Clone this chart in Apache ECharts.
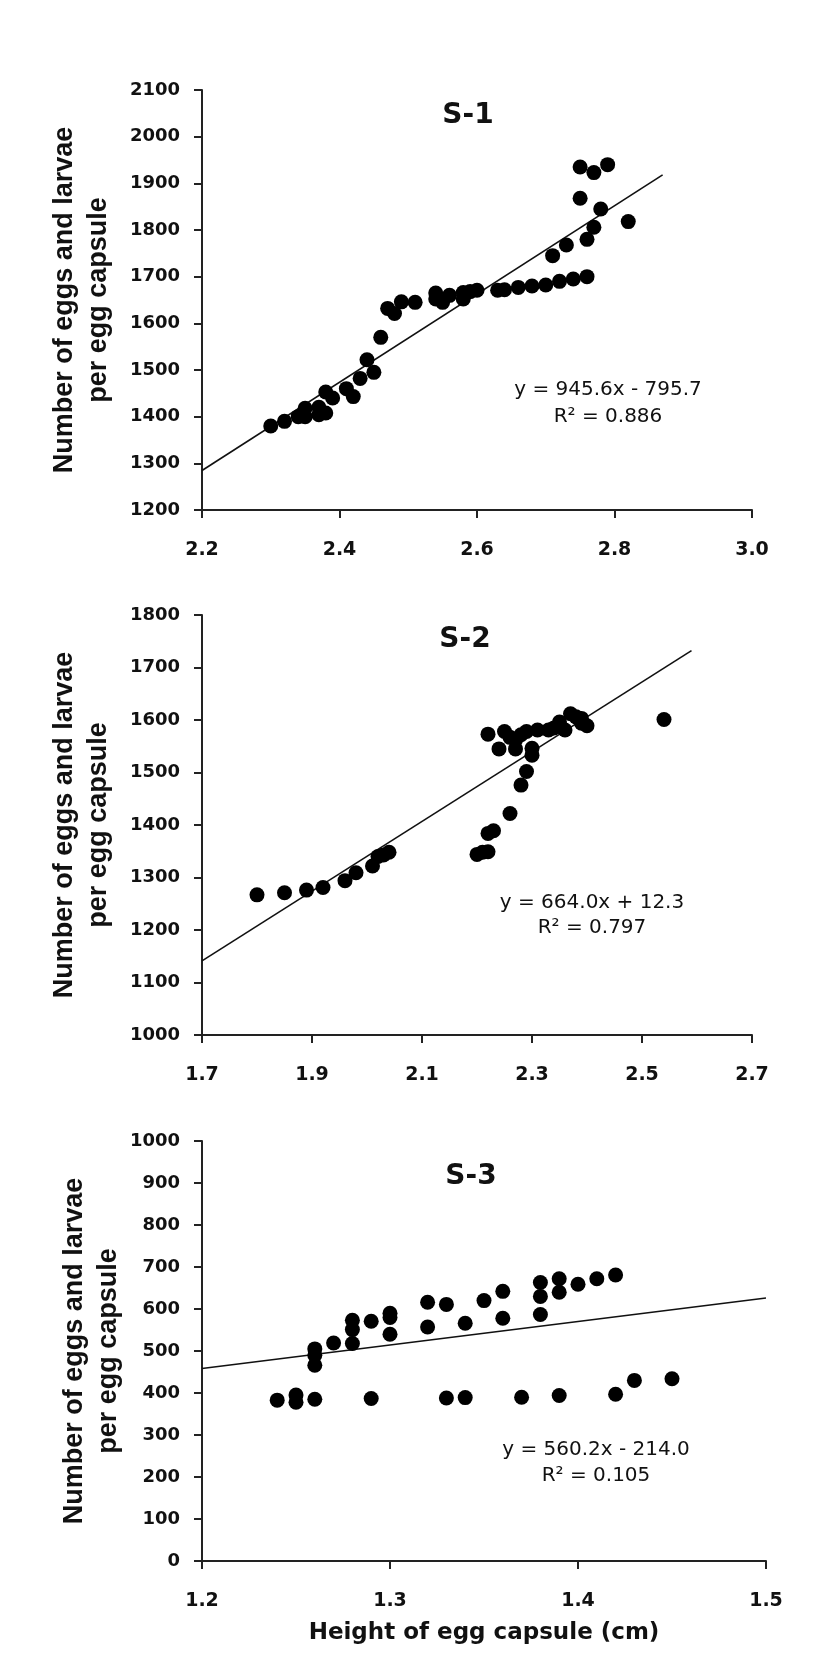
<!DOCTYPE html>
<html>
<head>
<meta charset="utf-8">
<script src="https://cdn.jsdelivr.net/npm/echarts@6/dist/echarts.min.js"></script>
<style>
html,body{margin:0;padding:0;background:#fff;}
#chart{width:827px;height:1670px;}
</style>
</head>
<body>
<div id="chart"></div>
<script>
// ---- data ----
const panelTitles = ['S-1', 'S-2', 'S-3'];
const equations = ['y = 945.6x - 795.7', 'y = 664.0x + 12.3', 'y = 560.2x - 214.0'];
const rSquared = ['R\u00b2 = 0.886', 'R\u00b2 = 0.797', 'R\u00b2 = 0.105'];
const yAxisTitle = 'Number of eggs and larvae\nper egg capsule';
const xAxisTitle = 'Height of egg capsule (cm)';

const s1Points = [[2.30,1380],[2.32,1390],[2.34,1400],[2.35,1418],[2.35,1400],[2.37,1420],[2.37,1404],[2.38,1408],[2.38,1453],[2.39,1440],[2.41,1460],[2.42,1443],[2.43,1482],[2.44,1522],[2.45,1495],[2.46,1570],[2.47,1632],[2.48,1621],[2.49,1646],[2.51,1645],[2.54,1665],[2.54,1652],[2.55,1645],[2.56,1660],[2.58,1652],[2.58,1666],[2.59,1668],[2.60,1671],[2.63,1671],[2.64,1672],[2.66,1677],[2.68,1680],[2.70,1682],[2.72,1690],[2.74,1695],[2.76,1700],[2.71,1745],[2.73,1768],[2.76,1780],[2.77,1806],[2.78,1845],[2.75,1868],[2.82,1818],[2.75,1935],[2.77,1923],[2.79,1940]];
const s2Points = [[1.80,1267],[1.85,1271],[1.89,1276],[1.92,1281],[1.96,1294],[1.98,1309],[2.01,1322],[2.02,1340],[2.03,1343],[2.04,1348],[2.20,1344],[2.21,1348],[2.22,1349],[2.22,1384],[2.23,1389],[2.26,1422],[2.28,1476],[2.29,1502],[2.30,1533],[2.30,1546],[2.22,1573],[2.24,1545],[2.25,1578],[2.26,1567],[2.27,1545],[2.27,1562],[2.28,1572],[2.29,1578],[2.31,1581],[2.33,1581],[2.34,1585],[2.35,1596],[2.36,1581],[2.37,1612],[2.38,1606],[2.39,1594],[2.40,1589],[2.39,1603],[2.54,1601]];
const s3Points = [[1.24,383],[1.25,395],[1.25,378],[1.26,385],[1.26,505],[1.26,490],[1.26,466],[1.27,519],[1.28,573],[1.28,551],[1.28,518],[1.29,571],[1.29,387],[1.30,590],[1.30,580],[1.30,540],[1.32,616],[1.32,557],[1.33,611],[1.33,388],[1.34,566],[1.34,389],[1.35,620],[1.36,642],[1.36,578],[1.38,663],[1.38,630],[1.38,587],[1.39,672],[1.39,640],[1.40,659],[1.41,672],[1.42,681],[1.37,390],[1.39,394],[1.42,397],[1.43,430],[1.45,434]];

const trend1 = [[2.2,1284.6],[2.87,1918.2]];
const trend2 = [[1.7,1141.1],[2.59,1732.1]];
const trend3 = [[1.2,458.2],[1.5,626.3]];

const xRanges = [[2.2,3.0,0.2],[1.7,2.7,0.2],[1.2,1.5,0.1]];
const yRanges = [[1200,2100,100],[1000,1800,100],[0,1000,100]];

// ---- layout / style ----
const grids = [
  {left:202, top:90,   width:550, height:420},
  {left:202, top:615,  width:550, height:420},
  {left:202, top:1141, width:564, height:420}
];
const nameGaps = [86, 86, 76];
const titlePos = [[463,97],[460,621],[466,1158]];
const eqPos = [[608,390,417],[592,903,928],[596,1450,1476]];

const axisLineStyle = {color:'#222', width:2};
const tickFont = {fontFamily:'DejaVu Sans', fontWeight:'bold', color:'#111'};

const allPoints = [s1Points, s2Points, s3Points];
const allTrends = [trend1, trend2, trend3];

const xAxes = xRanges.map((r,i)=>({
  type:'value', gridIndex:i, min:r[0], max:r[1], interval:r[2],
  splitLine:{show:false},
  axisLine:{show:true, onZero:false, lineStyle:axisLineStyle},
  axisTick:{show:true, inside:false, length:8, lineStyle:axisLineStyle},
  axisLabel:Object.assign({fontSize:19, margin:31, showMinLabel:true, showMaxLabel:true,
    formatter:v=>Number(v).toFixed(1)}, tickFont),
  name: i===2 ? xAxisTitle : '',
  nameLocation:'middle', nameGap:61, nameMoveOverlap:false,
  nameTextStyle:{fontFamily:'DejaVu Sans', fontWeight:'bold', fontSize:23, color:'#111'}
}));

const yAxes = yRanges.map((r,i)=>({
  type:'value', gridIndex:i, min:r[0], max:r[1], interval:r[2],
  splitLine:{show:false},
  axisLine:{show:true, onZero:false, lineStyle:axisLineStyle},
  axisTick:{show:true, inside:false, length:8, lineStyle:axisLineStyle},
  axisLabel:Object.assign({fontSize:18, margin:22, showMinLabel:true, showMaxLabel:true,
    formatter:v=>String(Math.round(v))}, tickFont),
  name: yAxisTitle, nameLocation:'middle', nameRotate:90, nameGap:nameGaps[i], nameMoveOverlap:false,
  nameTextStyle:{fontFamily:'Liberation Sans', fontWeight:'bold', fontSize:27, lineHeight:34, color:'#111', align:'center'}
}));

const series = [];
allPoints.forEach((pts,i)=>{
  series.push({
    type:'scatter', xAxisIndex:i, yAxisIndex:i, data:pts,
    symbol:'circle', symbolSize:15, itemStyle:{color:'#000', opacity:1}, silent:true, z:3
  });
  series.push({
    type:'line', xAxisIndex:i, yAxisIndex:i, data:allTrends[i],
    symbol:'none', lineStyle:{color:'#111', width:1.6}, silent:true, z:2
  });
});

const titles = panelTitles.map((t,i)=>({
  text:t, left:titlePos[i][0], top:titlePos[i][1], textAlign:'center',
  textStyle:{fontFamily:'DejaVu Sans', fontWeight:'bold', fontSize:28, color:'#111'}
}));

const graphics = [];
eqPos.forEach((p,i)=>{
  graphics.push({type:'text', x:p[0], y:p[1], style:{text:equations[i], fill:'#111',
    font:'20px "DejaVu Sans"', textAlign:'center', textVerticalAlign:'middle'}});
  graphics.push({type:'text', x:p[0], y:p[2], style:{text:rSquared[i], fill:'#111',
    font:'20px "DejaVu Sans"', textAlign:'center', textVerticalAlign:'middle'}});
});

const chart = echarts.init(document.getElementById('chart'), null, {renderer:'canvas'});
chart.setOption({
  animation:false,
  backgroundColor:'#fff',
  title:titles,
  grid:grids,
  xAxis:xAxes,
  yAxis:yAxes,
  series:series,
  graphic:graphics
});
</script>
</body>
</html>
